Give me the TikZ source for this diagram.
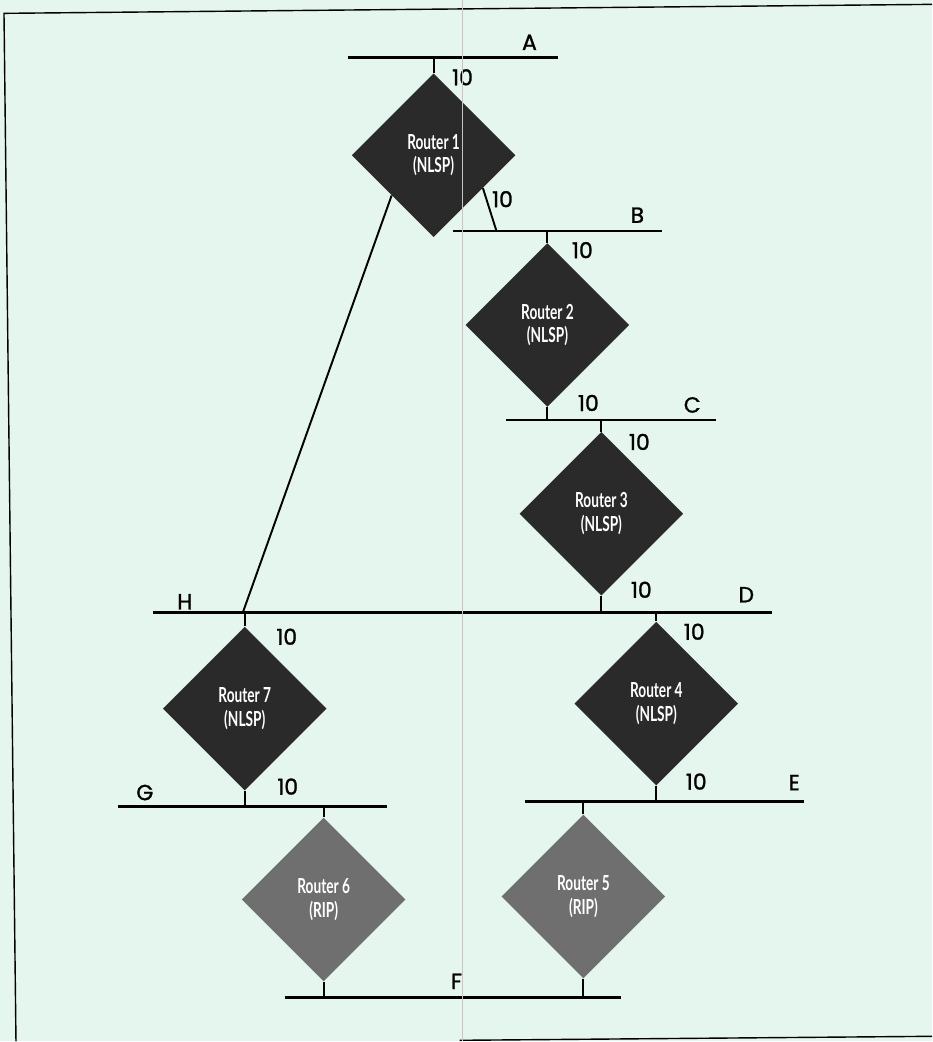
\documentclass[tikz,border=0pt]{standalone}
\usepackage{fontspec}
\setmainfont{Poppins}
\newfontfamily\nhanfont[FakeBold=1.2]{Poppins}
\newfontfamily\routerfont[FakeStretch=0.66]{Lato}
\usetikzlibrary{shapes.geometric,calc}
\definecolor{nen}{HTML}{E4F6EE}
\definecolor{nlsp}{HTML}{2A2A2A}
\definecolor{rip}{HTML}{6F6F6F}
\tikzset{
  router/.style={diamond, fill=nlsp, inner sep=0pt, minimum width=3.28cm, minimum height=3.28cm,
    text=white, align=center, font=\routerfont\bfseries\fontsize{11.8}{13.5}\selectfont},
  riprouter/.style={router, fill=rip},
  mang/.style={line width=1.5pt},
  chan/.style={line width=1.1pt},
  nhan/.style={inner sep=0pt, font=\nhanfont\fontsize{12.5}{12.5}\selectfont}
}
\begin{document}
\begin{tikzpicture}[x=0.02cm, y=-0.02cm]
%nền và khung
\fill[nen] (0,0) rectangle (933,1042);
\draw[line width=0.8pt] (933,4) -- (4,13) -- (16,1042);
\draw[line width=0.8pt] (460,1041) -- (933,1037);
%các router
\foreach \ten/\x/\y/\so in {r1/434/155/1, r2/548/325/2, r3/602/514/3, r4/657/704/4, r7/245/709/7}
  \node[router] (\ten) at (\x,\y) {Router \so\\(NLSP)};
\foreach \ten/\x/\y/\so in {r5/584/897/5, r6/324/900/6}
  \node[riprouter] (\ten) at (\x,\y) {Router \so\\(RIP)};
%các mạng
\foreach \ten/\xa/\xb/\y in {a/348/559/57, b/453/663/231, c/507/717/420, d/153/773/613, e/526/805/802, g/118/387/807, f/285/622/998}
{
  \coordinate (\ten1) at (\xa,\y);
  \coordinate (\ten2) at (\xb,\y);
  \draw[mang] (\ten1) -- (\ten2);
}
%nối router với mạng
\foreach \r/\m in {r1/a, r2/b, r3/c, r4/d, r7/d, r5/e, r6/g}
  \draw[chan] (\r.north) -- (\r.north |- \m1);
\foreach \r/\m in {r2/c, r3/d, r4/e, r7/g, r5/f, r6/f}
  \draw[chan] (\r.south) -- (\r.south |- \m1);
\coordinate (b0) at (497,231);
\coordinate (h0) at (243,613);
\draw[chan] ($(r1.east)!0.4!(r1.south)$) -- (b0);
\draw[chan] ($(r1.west)!0.49!(r1.south)$) -- (h0);
%tên mạng
\foreach \ten/\x/\y/\chu in {ta/530/42/A, tb/638/215/B, tc/693/405/C, td/747/595/D, th/185/602/H, te/795/783/E, tg/145/793/G, tf/457/982/F}
  \node[nhan] (\ten) at (\x,\y) {\chu};
%chi phí
\foreach \ten/\x/\y in {c1/463/77, c2/503/199, c3/583/250, c4/589/403, c5/640/442, c6/642/590, c7/695/632, c8/697/782, c9/287/637, c10/288/787}
  \node[nhan] (\ten) at (\x,\y) {10};
%vết gấp
\draw[gray!45, line width=0.4pt] (463,0) -- (463,1042);
\end{tikzpicture}
\end{document}
